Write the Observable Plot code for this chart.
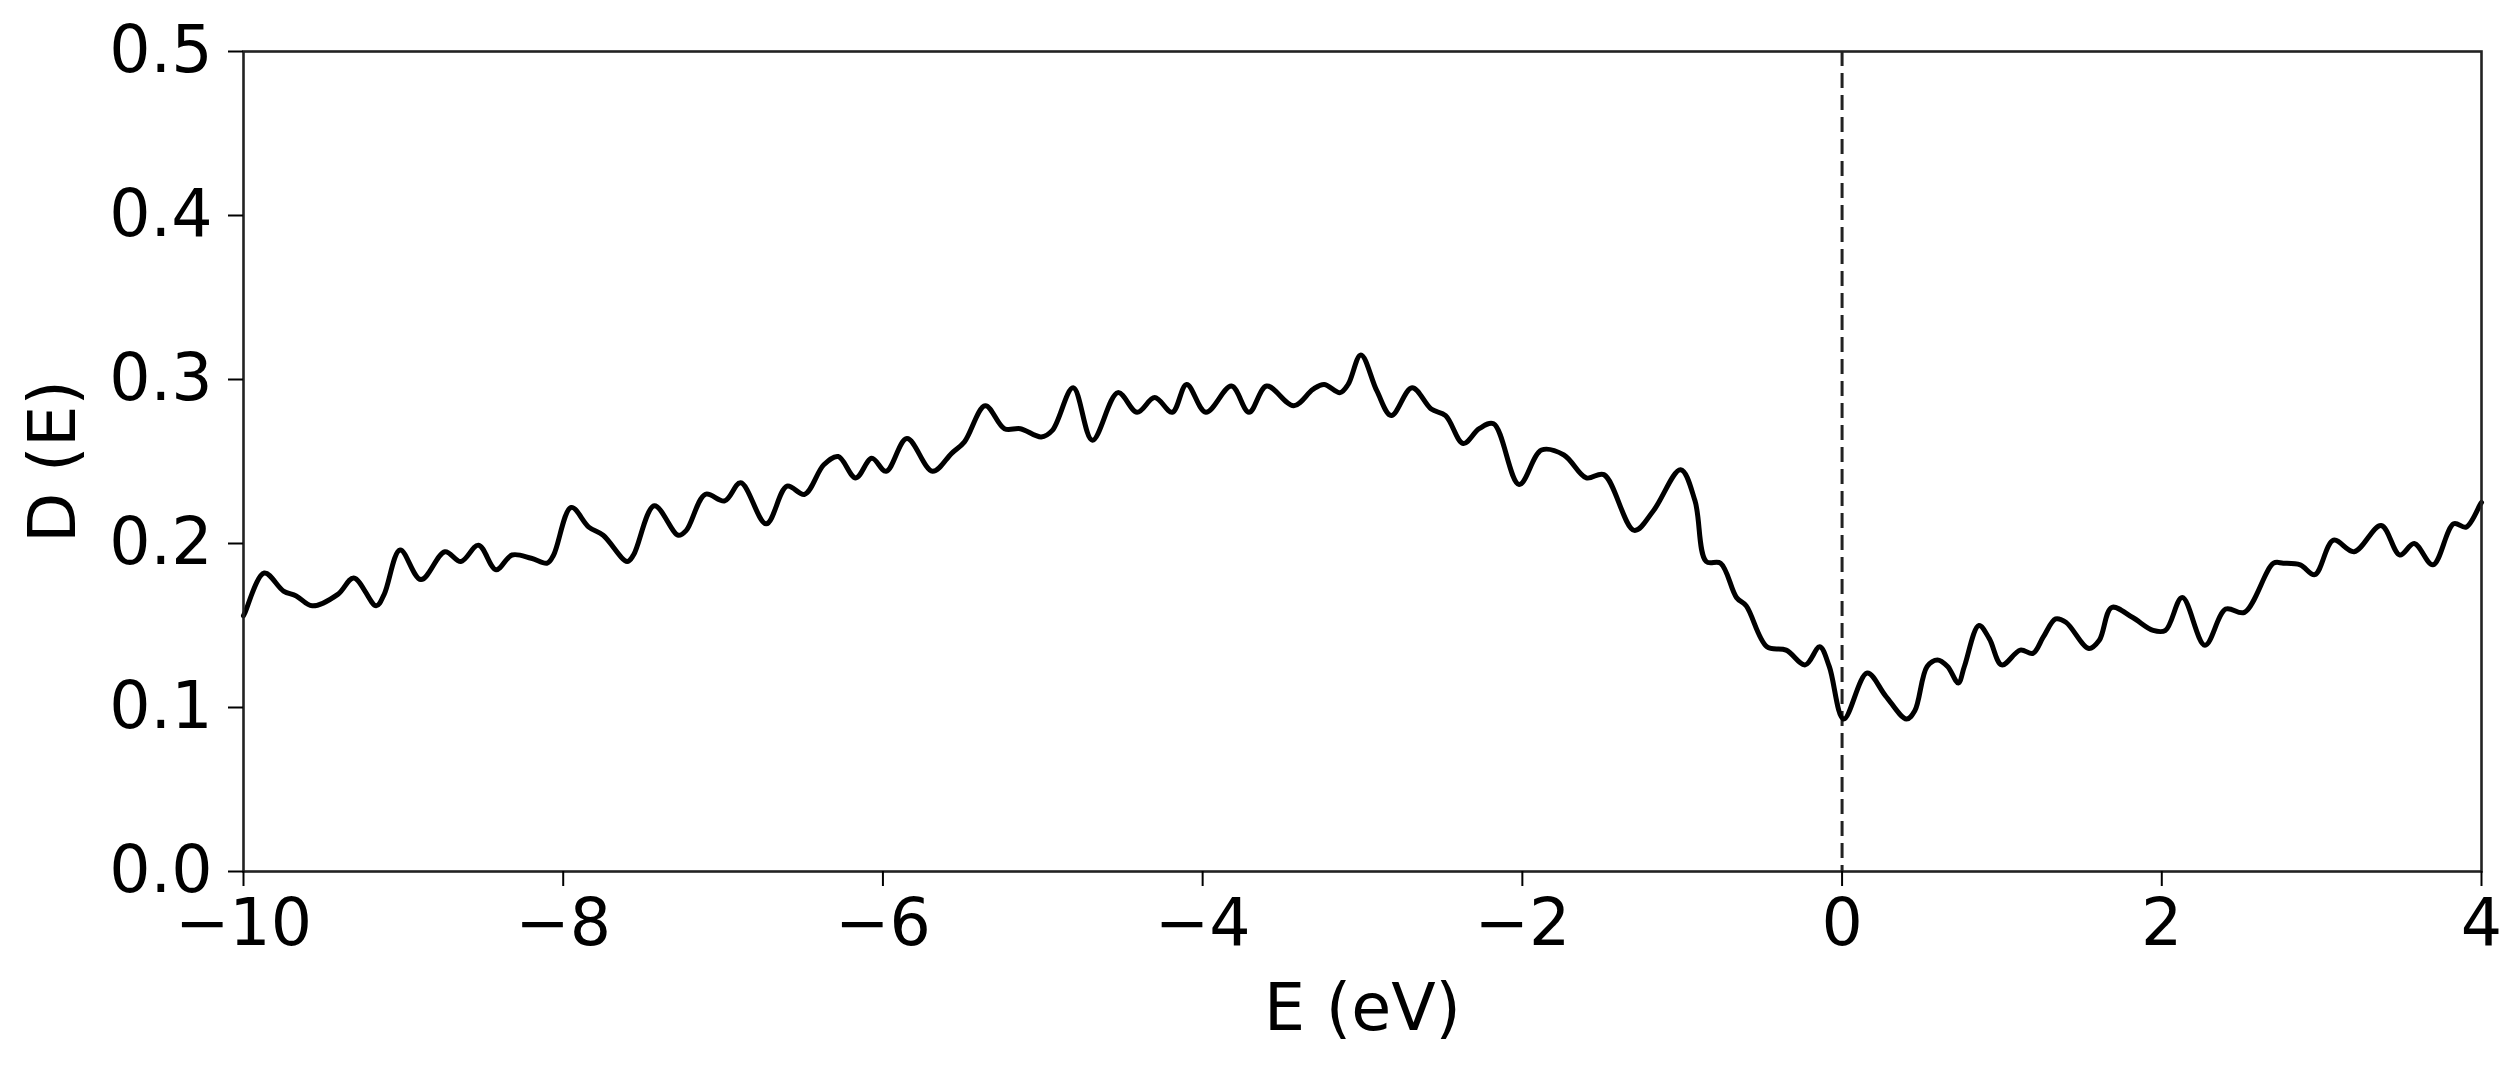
<!DOCTYPE html>
<html>
<head>
<meta charset="utf-8">
<script src="https://cdn.jsdelivr.net/npm/d3@7"></script>
<script src="https://cdn.jsdelivr.net/npm/@observablehq/plot@0.6"></script>
<style>
  html, body { margin: 0; padding: 0; background: #ffffff; }
  #chart svg { display: block; }
</style>
</head>
<body>
<div id="chart"></div>
<script>
const energy = [
  -10.0, -9.99, -9.87, -9.75, -9.67, -9.57, -9.41, -9.31, -9.17, -9.12, -9.02,
  -8.89, -8.74, -8.64, -8.53, -8.42, -8.32, -8.20, -8.10, -8.06, -7.95,
  -7.84, -7.75, -7.60, -7.56, -7.43, -7.28, -7.23, -7.11, -6.99, -6.89,
  -6.73, -6.60, -6.49, -6.37, -6.28, -6.17, -6.07, -5.98, -5.85, -5.69,
  -5.57, -5.49, -5.36, -5.24, -5.14, -5.01, -4.94, -4.81, -4.69, -4.53,
  -4.41, -4.30, -4.19, -4.10, -3.98, -3.82, -3.71, -3.60, -3.43, -3.31,
  -3.24, -3.14, -3.09, -3.01, -2.91, -2.82, -2.69, -2.57, -2.48, -2.37,
  -2.27, -2.18, -2.02, -1.88, -1.74, -1.60, -1.49, -1.30, -1.18, -1.01,
  -0.92, -0.85, -0.76, -0.66, -0.60, -0.47, -0.35, -0.23, -0.14, -0.08,
  0.01, 0.157, 0.273, 0.403, 0.455, 0.532, 0.597, 0.66, 0.727, 0.765,
  0.856, 0.921, 0.999, 1.115, 1.194, 1.259, 1.336, 1.40, 1.544, 1.609,
  1.687, 1.816, 1.946, 2.023, 2.128, 2.270, 2.40, 2.517, 2.699, 2.76,
  2.866, 2.957, 3.074, 3.203, 3.372, 3.489, 3.579, 3.696, 3.826, 3.904,
  3.993, 4.0
];
const dos = [
  0.156, 0.158, 0.182, 0.171, 0.168, 0.162, 0.169, 0.179, 0.162, 0.169, 0.196,
  0.178, 0.195, 0.189, 0.199, 0.184, 0.193, 0.191, 0.188, 0.193, 0.222,
  0.210, 0.205, 0.189, 0.193, 0.223, 0.205, 0.208, 0.230, 0.226, 0.237,
  0.212, 0.235, 0.230, 0.248, 0.253, 0.240, 0.252, 0.244, 0.264, 0.244,
  0.255, 0.262, 0.284, 0.270, 0.270, 0.265, 0.269, 0.295, 0.263, 0.292,
  0.280, 0.289, 0.280, 0.297, 0.280, 0.296, 0.280, 0.296, 0.284, 0.294,
  0.297, 0.292, 0.297, 0.315, 0.293, 0.278, 0.295, 0.282, 0.278, 0.261,
  0.270, 0.273, 0.236, 0.257, 0.254, 0.240, 0.242, 0.208, 0.220, 0.245,
  0.226, 0.189, 0.188, 0.167, 0.162, 0.137, 0.135, 0.126, 0.137, 0.125,
  0.093, 0.121, 0.107, 0.093, 0.098, 0.125, 0.129, 0.125, 0.115, 0.125,
  0.150, 0.142, 0.126, 0.135, 0.133, 0.143, 0.154, 0.152, 0.136, 0.141,
  0.161, 0.155, 0.147, 0.147, 0.167, 0.138, 0.160, 0.158, 0.188, 0.188,
  0.187, 0.181, 0.202, 0.195, 0.211, 0.193, 0.200, 0.187, 0.212, 0.210,
  0.224, 0.225
];
const xTicks = [-10, -8, -6, -4, -2, 0, 2, 4];
const yTicks = [0.0, 0.1, 0.2, 0.3, 0.4, 0.5];
const fermiLevel = [0];
const xLabel = "E (eV)";
const yLabel = "D (E)";

const rows = energy.map((e, i) => ({E: e, D: dos[i]}));

const W = 2519, H = 1067;
const mL = 243, mR = 38, mT = 51, mB = 196;

const chart = Plot.plot({
  width: W,
  height: H,
  marginLeft: mL,
  marginRight: mR,
  marginTop: mT,
  marginBottom: mB,
  style: {
    fontFamily: "'DejaVu Sans', sans-serif",
    fontSize: "65px",
    background: "#ffffff",
    color: "#000000",
    overflow: "visible"
  },
  x: {domain: [-10, 4]},
  y: {domain: [0, 0.5]},
  marks: [
    Plot.ruleX(fermiLevel, {stroke: "#222", strokeWidth: 3, strokeDasharray: "15,7"}),
    Plot.line(rows, {x: "E", y: "D", stroke: "#000", strokeWidth: 5, curve: "catmull-rom"}),
    Plot.frame({stroke: "#222", strokeWidth: 2.6}),
    Plot.axisX({ticks: xTicks, tickFormat: d3.format("d"), tickSize: 15, tickPadding: 12, strokeWidth: 2, label: null, fontSize: 65}),
    Plot.axisY({ticks: yTicks, tickFormat: d3.format(".1f"), tickSize: 15, tickPadding: 16, strokeWidth: 2, label: null, fontSize: 65}),
    Plot.text([xLabel], {text: d => d, frameAnchor: "bottom", dy: 138, lineAnchor: "middle", textAnchor: "middle", fontSize: 65, fill: "#000"}),
    Plot.text([yLabel], {text: d => d, frameAnchor: "left", dx: -189, rotate: -90, lineAnchor: "middle", textAnchor: "middle", fontSize: 65, fill: "#000"})
  ]
});

document.getElementById("chart").appendChild(chart);
</script>
</body>
</html>
